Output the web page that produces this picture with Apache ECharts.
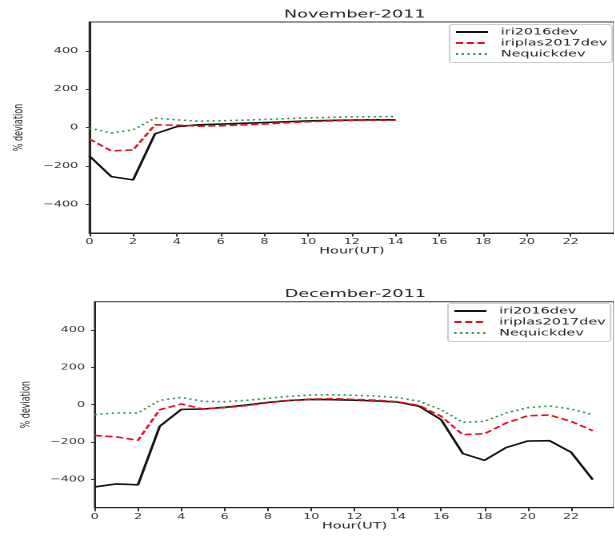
<!DOCTYPE html>
<html>
<head>
<meta charset="utf-8">
<script src="https://cdn.jsdelivr.net/npm/echarts@6/dist/echarts.min.js"></script>
<style>
  html, body { margin: 0; padding: 0; background: #fff; overflow: hidden; width: 615px; height: 539px; }
  #chart { width: 384.375px; height: 539px; transform: scaleX(1.6); transform-origin: 0 0; }
</style>
</head>
<body>
<div id="chart"></div>
<script>
// ---- data ----
const seriesNames = ['iri2016dev', 'iriplas2017dev', 'Nequickdev'];
const xTicks = [0, 2, 4, 6, 8, 10, 12, 14, 16, 18, 20, 22];
const yTicks = [-400, -200, 0, 200, 400];

const novHours = [0, 1, 2, 3, 4, 5, 6, 7, 8, 9, 10, 11, 12, 13, 14];
const novIri = [-148, -256, -273, -33, 5, 14, 18, 22, 26, 30, 34, 37, 39, 40, 40];
const novIriplas = [-60, -122, -117, 14, 12, 7, 9, 13, 18, 25, 30, 34, 37, 38, 38];
const novNequick = [-3, -29, -12, 49, 40, 33, 35, 38, 42, 46, 50, 53, 55, 56, 57];

const decHours = [0, 1, 2, 3, 4, 5, 6, 7, 8, 9, 10, 11, 12, 13, 14, 15, 16, 17, 18, 19, 20, 21, 22, 23];
const decIri = [-439, -423, -428, -116, -25, -23, -14, -2, 12, 23, 28, 27, 24, 20, 14, -9, -80, -261, -297, -229, -194, -192, -254, -400];
const decIriplas = [-164, -172, -190, -27, 4, -23, -16, -5, 10, 22, 30, 32, 28, 24, 16, -5, -62, -160, -155, -98, -59, -55, -89, -139];
const decNequick = [-53, -44, -44, 23, 39, 18, 16, 23, 34, 45, 52, 53, 50, 46, 38, 18, -27, -94, -89, -44, -16, -7, -23, -53];

const titles = ['November-2011', 'December-2011'];

// ---- build ----
const FONT = 'DejaVu Sans';
const styles = [
  { color: '#111111', type: 'solid', width: 1.6 },
  { color: '#e0141e', type: [4.5, 2.2], width: 1.6 },
  { color: '#2f8f3f', type: [1.3, 2.3], width: 1.6 }
];

function pairs(hours, vals) { return hours.map((h, i) => [h, vals[i]]); }
function fmt(v) { return v < 0 ? '\u2212' + Math.abs(v) : String(v); }

const grids = [
  { left: 53.75, top: 22, width: 338.6, height: 211 },
  { left: 59.2, top: 301.7, width: 329.1, height: 206 }
];

function xAxis(i) {
  return {
    type: 'value', gridIndex: i, min: 0, max: 24,
    name: 'Hour(UT)', nameLocation: 'middle', nameGap: 13,
    nameTextStyle: { fontFamily: FONT, fontSize: 9, color: '#222' },
    axisLine: { show: true, onZero: false, lineStyle: { color: '#222', width: 1 } },
    axisTick: { show: true, inside: false, length: 3.5, customValues: xTicks, lineStyle: { color: '#333' } },
    axisLabel: { customValues: xTicks, margin: 5, fontFamily: FONT, fontSize: 8, color: '#333' },
    splitLine: { show: false }
  };
}
function yAxis(i, gap, margin) {
  return {
    type: 'value', gridIndex: i, min: -550, max: 550,
    name: '% deviation', nameLocation: 'middle', nameGap: gap,
    nameTextStyle: { fontFamily: FONT, fontSize: 8, color: '#222' },
    axisLine: { show: true, onZero: false, lineStyle: { color: '#222', width: 1 } },
    axisTick: { show: true, inside: false, length: 2.2, customValues: yTicks, lineStyle: { color: '#333' } },
    axisLabel: { customValues: yTicks, margin: margin, fontFamily: FONT, fontSize: 8, color: '#333', formatter: fmt },
    splitLine: { show: false }
  };
}

function mkSeries(i, hours, arrs) {
  return arrs.map((vals, k) => ({
    type: 'line', name: seriesNames[k], xAxisIndex: i, yAxisIndex: i,
    data: pairs(hours, vals), symbol: 'none', showSymbol: false,
    color: styles[k].color,
    lineStyle: { color: styles[k].color, type: styles[k].type, width: styles[k].width, cap: 'butt' },
    z: 2 + k, animation: false
  }));
}

function legend(left, top) {
  return {
    orient: 'vertical', left: left, top: top,
    data: seriesNames,
    itemWidth: 20, itemHeight: 11, itemGap: 0,
    padding: [2, 3, 3, 3],
    itemStyle: { opacity: 0 },
    backgroundColor: '#fff', borderColor: '#cccccc', borderWidth: 1, borderRadius: 2,
    textStyle: { fontFamily: FONT, fontSize: 9, color: '#222', lineHeight: 11, padding: [0, 0, 0, 3] }
  };
}

const option = {
  backgroundColor: '#fff',
  animation: false,
  title: [
    { text: titles[0], left: 177.5, top: 9, padding: 0, textStyle: { fontFamily: FONT, fontSize: 11, fontWeight: 'normal', color: '#222' } },
    { text: titles[1], left: 178, top: 288.5, padding: 0, textStyle: { fontFamily: FONT, fontSize: 11, fontWeight: 'normal', color: '#222' } }
  ],
  grid: grids.map(g => Object.assign({ show: true, borderColor: '#333', borderWidth: 1, backgroundColor: 'transparent', containLabel: false }, g)),
  legend: [legend(281, 24.5), legend(280, 303.5)],
  xAxis: [xAxis(0), xAxis(1)],
  yAxis: [yAxis(0, 38, 7), yAxis(1, 37.5, 6)],
  series: [].concat(
    mkSeries(0, novHours, [novIri, novIriplas, novNequick]),
    mkSeries(1, decHours, [decIri, decIriplas, decNequick])
  )
};

const chart = echarts.init(document.getElementById('chart'), null, { devicePixelRatio: 2 });
chart.setOption(option);
</script>
</body>
</html>
